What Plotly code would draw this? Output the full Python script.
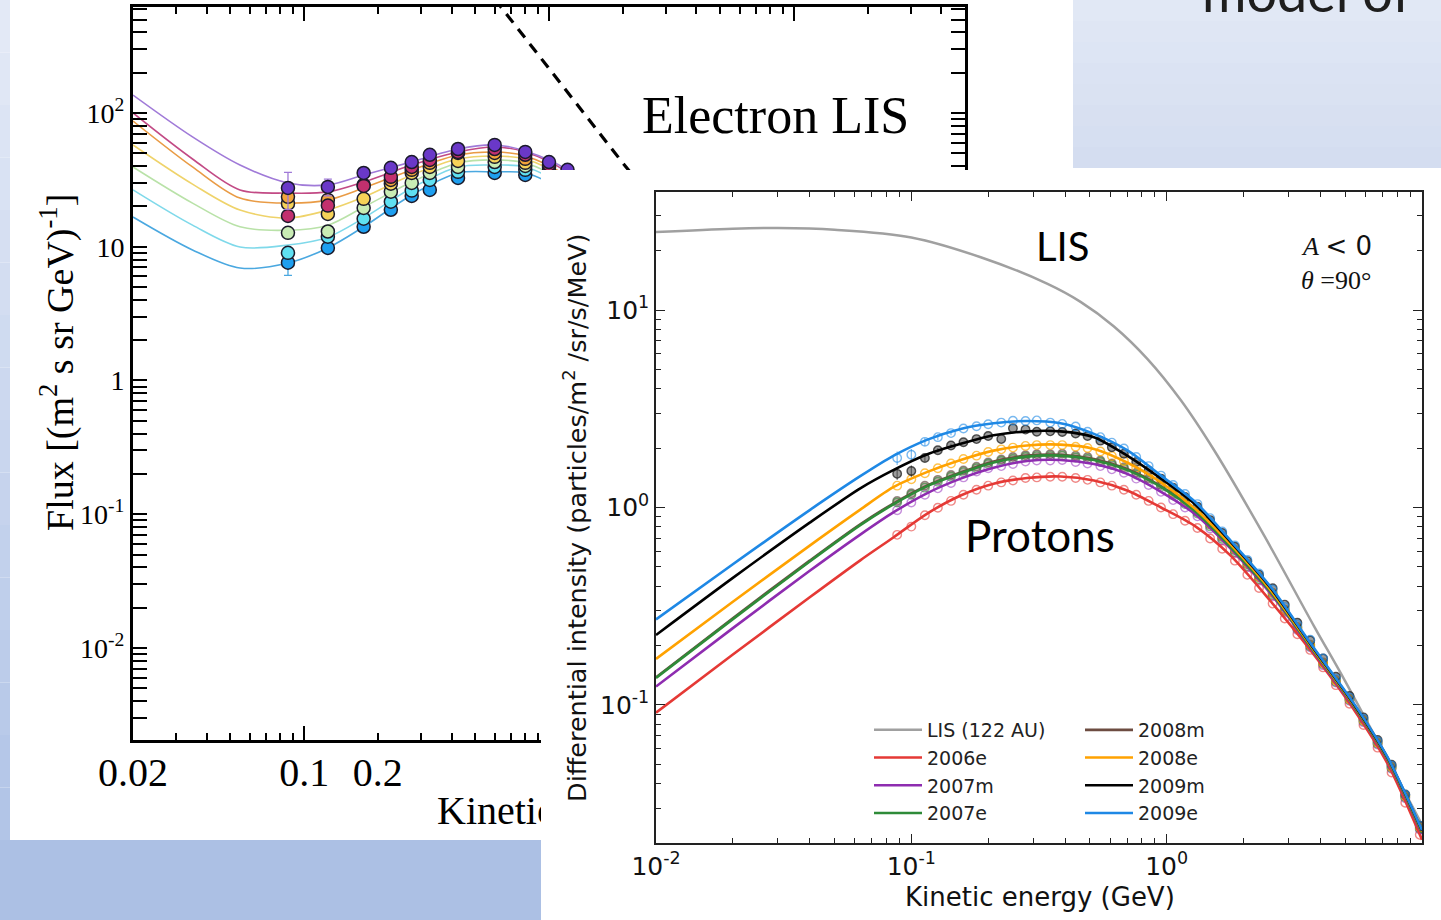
import math
import plotly.graph_objects as go

W, H = 1441, 920


def fx(px):
    return px / W


def fy(py):
    return 1 - py / H


# ---------------- Electron chart (left, partly hidden) ----------------
el_line_E = [0.02, 0.035, 0.0547, 0.0859, 0.125, 0.175, 0.275, 0.425, 0.6, 0.8, 1.19, 3.0, 10.0, 50.0]
el_purple = [136, 66.2, 40.8, 30.0, 29.0, 34.4, 43.1, 53.8, 57.7, 52.0, 37.5, 8.0, 0.9, 0.02]
el_magenta = [100, 45.3, 26.6, 25.2, 25.7, 30.5, 40.8, 51.1, 55.7, 51.1, 36.0, 7.8, 0.88, 0.02]
el_orange = [87.1, 39.5, 23.1, 21.2, 22.4, 27.5, 37.5, 48.5, 51.1, 47.7, 33.5, 7.4, 0.85, 0.02]
el_yellow = [57.7, 29.4, 18.8, 16.4, 18.8, 23.5, 34.4, 45.3, 47.7, 45.3, 31.5, 7.1, 0.82, 0.02]
el_green = [39.5, 21.2, 14.1, 13.3, 14.5, 19.8, 30.5, 42.3, 44.6, 42.3, 29.5, 6.8, 0.8, 0.02]
el_cyan = [26.6, 14.5, 9.96, 10.3, 11.8, 16.4, 27.5, 39.5, 40.8, 39.5, 27.5, 6.5, 0.77, 0.02]
el_blue = [16.7, 9.47, 6.93, 7.56, 9.8, 14.1, 24.4, 35.6, 36.2, 35.6, 25.0, 6.1, 0.74, 0.02]

el_pts_E = [0.0859, 0.125, 0.175, 0.226, 0.275, 0.326, 0.425, 0.6, 0.8, 1.0, 1.19]
el_purple_pts = [27.5, 28.0, 35.6, 38.9, 43.0, 48.7, 53.8, 57.7, 51.2, 43.0, 37.6]
el_magenta_pts = [17.0, 20.3, 28.5, 33.3, 39.5, 44.6, 51.2, 53.8, 48.7, 41.0, 35.0]
el_orange_pts = [23.6, 22.4, 29.0, 31.6, 37.6, 42.4, 50.3, 50.3, 45.4, 39.5, 33.0]
el_yellow_pts = [21.0, 17.6, 22.8, 29.6, 35.6, 39.5, 43.8, 47.0, 42.4, 37.0, 31.0]
el_green_pts = [12.7, 13.0, 19.5, 25.8, 30.0, 35.6, 39.5, 43.0, 40.2, 35.0, 29.0]
el_cyan_pts = [9.0, 11.9, 16.2, 21.7, 26.3, 31.6, 36.3, 39.5, 37.6, 33.0, 27.0]
el_blue_pts = [7.6, 9.8, 14.1, 18.9, 24.0, 26.6, 32.7, 35.6, 34.4, 30.0, 25.0]
el_purple_err = [8.5, 4.0, 2.0, 1.5, 0, 0, 0, 0, 0, 0, 0]
el_blue_err = [1.5, 0.8, 0.5, 0, 0, 0, 0, 0, 0, 0, 0]

el_lis_E = [0.6, 0.69, 1.0, 2.0, 5.0, 20.0, 50.0]
el_lis = [712, 512, 215, 42.4, 5.5, 0.2, 0.025]

el_x_labels_vals = [0.02, 0.1, 0.2]
el_x_labels_text = ["0.02", "0.1", "0.2"]
el_y_tickvals = [0.01, 0.1, 1, 10, 100]
el_y_ticktext = ["10<sup>-2</sup>", "10<sup>-1</sup>", "1", "10", "10<sup>2</sup>"]

# ---------------- Proton chart (right, in front) ----------------
p_lis_E = [0.01, 0.02, 0.03, 0.05, 0.1, 0.187, 0.34, 0.46, 0.62, 0.84, 1.135, 1.53, 2.41, 3.78, 5.0, 10.0]
p_lis = [24.8, 25.8, 26.0, 25.5, 23.3, 18.5, 13.6, 11.0, 8.28, 5.66, 3.5, 1.96, 0.72, 0.25, 0.132, 0.0248]

p_line_E = [0.01, 0.02, 0.04, 0.0631, 0.0853, 0.115, 0.156, 0.21, 0.284, 0.384,
            0.519, 0.70, 0.95, 1.3, 1.78, 2.56, 3.67, 5.43, 7.33, 10.0]
p_2006e = [0.0914, 0.180, 0.351, 0.540, 0.707, 0.929, 1.15, 1.32, 1.41, 1.435,
           1.37, 1.22, 1.00, 0.80, 0.57, 0.334, 0.188, 0.094, 0.0504, 0.0208]
p_2007m = [0.124, 0.245, 0.478, 0.729, 0.947, 1.18, 1.40, 1.59, 1.72, 1.74,
           1.66, 1.48, 1.20, 0.92, 0.62, 0.365, 0.194, 0.097, 0.0525, 0.0222]
p_2007e = [0.137, 0.272, 0.533, 0.814, 1.04, 1.28, 1.49, 1.69, 1.81, 1.83,
           1.74, 1.55, 1.27, 0.95, 0.63, 0.372, 0.196, 0.098, 0.053, 0.0225]
p_2008m = [0.138, 0.275, 0.538, 0.822, 1.05, 1.29, 1.505, 1.71, 1.83, 1.85,
           1.76, 1.565, 1.28, 0.96, 0.636, 0.376, 0.198, 0.099, 0.0535, 0.0227]
p_2008e = [0.171, 0.333, 0.641, 0.975, 1.27, 1.51, 1.74, 1.94, 2.06, 2.08,
           1.98, 1.69, 1.34, 0.98, 0.65, 0.38, 0.199, 0.099, 0.0535, 0.0228]
p_2009m = [0.226, 0.44, 0.838, 1.25, 1.55, 1.855, 2.10, 2.32, 2.43, 2.43,
           2.27, 1.83, 1.40, 1.03, 0.67, 0.39, 0.202, 0.100, 0.054, 0.023]
p_2009e = [0.271, 0.516, 0.97, 1.44, 1.83, 2.20, 2.50, 2.67, 2.74, 2.67,
           2.36, 1.95, 1.45, 1.06, 0.68, 0.395, 0.204, 0.101, 0.0544, 0.0232]

p_pts_E = [0.088, 0.1, 0.113, 0.127, 0.143, 0.16, 0.18, 0.2, 0.225, 0.25, 0.28, 0.31, 0.35, 0.39,
           0.44, 0.49, 0.55, 0.61, 0.68, 0.76, 0.85, 0.95, 1.06, 1.18, 1.32, 1.48, 1.65, 1.85,
           2.07, 2.3, 2.6, 2.9, 3.25, 3.65, 4.1, 4.6, 5.2, 5.9, 6.7, 7.6, 8.6, 9.8]
p_2006e_pts = [0.727, 0.80, 0.914, 0.996, 1.08, 1.16, 1.23, 1.29, 1.34, 1.37, 1.41, 1.42, 1.43, 1.43,
               1.41, 1.38, 1.34, 1.29, 1.23, 1.16, 1.08, 1.00, 0.925, 0.857, 0.787, 0.696, 0.618, 0.538,
               0.456, 0.391, 0.326, 0.274, 0.228, 0.190, 0.155, 0.126, 0.1015, 0.0791, 0.0608, 0.0455, 0.032, 0.022]
p_2007m_pts = [0.969, 1.06, 1.16, 1.25, 1.33, 1.42, 1.52, 1.58, 1.62, 1.66, 1.71, 1.73, 1.73, 1.74,
               1.70, 1.67, 1.62, 1.56, 1.50, 1.40, 1.30, 1.20, 1.09, 1.00, 0.902, 0.782, 0.682, 0.586,
               0.498, 0.426, 0.355, 0.293, 0.240, 0.196, 0.159, 0.130, 0.105, 0.0818, 0.0631, 0.0475, 0.0337, 0.0234]
p_2007e_pts = [1.06, 1.16, 1.26, 1.35, 1.43, 1.51, 1.58, 1.66, 1.72, 1.76, 1.80, 1.82, 1.82, 1.83,
               1.79, 1.76, 1.70, 1.64, 1.57, 1.47, 1.37, 1.27, 1.15, 1.04, 0.931, 0.802, 0.695, 0.596,
               0.506, 0.434, 0.362, 0.298, 0.243, 0.198, 0.161, 0.131, 0.106, 0.0827, 0.0637, 0.048, 0.0341, 0.0237]
p_2008m_pts = [1.08, 1.18, 1.29, 1.38, 1.46, 1.54, 1.61, 1.69, 1.75, 1.80, 1.84, 1.86, 1.86, 1.87,
               1.83, 1.80, 1.73, 1.67, 1.60, 1.50, 1.40, 1.30, 1.17, 1.06, 0.95, 0.818, 0.709, 0.608,
               0.516, 0.443, 0.369, 0.304, 0.248, 0.202, 0.164, 0.134, 0.108, 0.0844, 0.065, 0.049, 0.0348, 0.0242]
p_2008e_pts = [1.29, 1.39, 1.49, 1.58, 1.67, 1.76, 1.83, 1.91, 1.97, 2.01, 2.05, 2.07, 2.07, 2.07,
               2.03, 2.00, 1.92, 1.82, 1.72, 1.59, 1.46, 1.34, 1.20, 1.08, 0.961, 0.827, 0.717, 0.614,
               0.520, 0.445, 0.370, 0.304, 0.247, 0.201, 0.163, 0.133, 0.107, 0.0835, 0.0644, 0.0485, 0.0345, 0.0240]
p_2009m_pts = [1.48, 1.53, 1.78, 1.95, 2.06, 2.14, 2.22, 2.30, 2.22, 2.52, 2.48, 2.42, 2.43, 2.41,
               2.37, 2.30, 2.18, 2.02, 1.87, 1.70, 1.54, 1.40, 1.26, 1.13, 1.01, 0.863, 0.743, 0.633,
               0.535, 0.457, 0.39, 0.322, 0.261, 0.212, 0.172, 0.139, 0.111, 0.0865, 0.0665, 0.0498, 0.0352, 0.0245]
p_2009e_pts = [1.78, 1.85, 2.15, 2.27, 2.38, 2.51, 2.58, 2.64, 2.69, 2.75, 2.74, 2.76, 2.69, 2.65,
               2.57, 2.42, 2.27, 2.13, 1.99, 1.80, 1.62, 1.45, 1.30, 1.17, 1.04, 0.883, 0.756, 0.642,
               0.543, 0.463, 0.384, 0.314, 0.255, 0.214, 0.172, 0.136, 0.109, 0.0851, 0.0655, 0.0493, 0.0351, 0.0245]
p_2009e_err = [0.14, 0.13, 0.10, 0.08, 0.06] + [0] * 37
p_2009m_err = [0.10, 0.10, 0.07, 0.05, 0.04] + [0] * 37

p_x_tickvals = [0.01, 0.1, 1, 10]
p_x_ticktext = ["10<sup>-2</sup>", "10<sup>-1</sup>", "10<sup>0</sup>", "10<sup>1</sup>"]
p_y_tickvals = [0.1, 1, 10]
p_y_ticktext = ["10<sup>-1</sup>", "10<sup>0</sup>", "10<sup>1</sup>"]


def minor_vals(decades, upto=None):
    out = []
    for d in decades:
        for m in range(2, 10):
            v = d * m
            if upto is None or v <= upto:
                out.append(v)
    return out


fig = go.Figure()

# ---- left chart: model lines ----
el_series = [
    (el_blue, el_blue_pts, "#4aa8e0", "#1e9ff0"),
    (el_cyan, el_cyan_pts, "#7fd9ea", "#5fe0f2"),
    (el_green, el_green_pts, "#b9e2a8", "#c9ecb4"),
    (el_yellow, el_yellow_pts, "#efd36a", "#f6d258"),
    (el_orange, el_orange_pts, "#e99b45", "#f2a43a"),
    (el_magenta, el_magenta_pts, "#c24a85", "#c2306e"),
    (el_purple, el_purple_pts, "#a07ad8", "#6a38c8"),
]
for vals, pts, lc, mc in el_series:
    fig.add_trace(go.Scatter(x=el_line_E, y=vals, mode="lines", xaxis="x", yaxis="y",
                             line=dict(color=lc, width=1.6, shape="spline", smoothing=0.9),
                             showlegend=False, hoverinfo="skip"))
fig.add_trace(go.Scatter(x=el_lis_E, y=el_lis, mode="lines", xaxis="x", yaxis="y",
                         line=dict(color="black", width=3.2, dash="11px,8px"),
                         showlegend=False, hoverinfo="skip"))
for vals, pts, lc, mc in el_series:
    err = None
    if pts is el_purple_pts:
        err = dict(type="data", array=el_purple_err, color="#a07ad8", thickness=1.3, width=4)
    if pts is el_blue_pts:
        err = dict(type="data", array=el_blue_err, color="#4aa8e0", thickness=1.3, width=4)
    fig.add_trace(go.Scatter(x=el_pts_E, y=pts, mode="markers", xaxis="x", yaxis="y",
                             marker=dict(size=13, color=mc, line=dict(color="#1a1a2a", width=1.5)),
                             error_y=err, showlegend=False, hoverinfo="skip"))
# overlay axis carrying the bottom tick labels of the left chart
fig.add_trace(go.Scatter(x=[], y=[], xaxis="x5", yaxis="y", showlegend=False, hoverinfo="skip"))

# ---- white panel of the proton figure (covers the electron chart) ----
fig.add_trace(go.Scatter(x=[], y=[], xaxis="x2", yaxis="y2", showlegend=False, hoverinfo="skip"))

# ---- right chart ----
fig.add_trace(go.Scatter(x=p_lis_E, y=p_lis, mode="lines", name="LIS (122 AU)", xaxis="x3", yaxis="y3",
                         line=dict(color="#a0a0a0", width=2.5, shape="spline", smoothing=1.0),
                         legend="legend", hoverinfo="skip"))

p_series = [
    ("2006e", p_2006e, p_2006e_pts, "#e53935", "rgba(0,0,0,0)", "rgba(229,57,53,0.6)", "legend", None),
    ("2007m", p_2007m, p_2007m_pts, "#8e2cb0", "rgba(0,0,0,0)", "rgba(150,50,190,0.55)", "legend", None),
    ("2008m", p_2008m, p_2008m_pts, "#6d4c41", "rgba(109,76,65,0.45)", "rgba(80,60,50,0.55)", "legend2", None),
    ("2007e", p_2007e, p_2007e_pts, "#2e8b38", "rgba(0,0,0,0)", "rgba(46,139,56,0.6)", "legend", None),
    ("2008e", p_2008e, p_2008e_pts, "#ffa200", "rgba(0,0,0,0)", "rgba(255,170,0,0.7)", "legend2", None),
    ("2009m", p_2009m, p_2009m_pts, "#000000", "rgba(90,90,90,0.6)", "rgba(30,30,30,0.75)", "legend2", p_2009m_err),
    ("2009e", p_2009e, p_2009e_pts, "#1e88e5", "rgba(0,0,0,0)", "rgba(30,136,229,0.6)", "legend2", p_2009e_err),
]
for name, line_vals, pts, col, fill, edge, lg, err in p_series:
    fig.add_trace(go.Scatter(x=p_pts_E, y=pts, mode="markers", xaxis="x3", yaxis="y3",
                             marker=dict(size=8.5, color=fill, line=dict(color=edge, width=1.4)),
                             error_y=(dict(type="data", array=err, color=edge, thickness=1.2, width=0)
                                      if err is not None else None),
                             showlegend=False, hoverinfo="skip"))
for name, line_vals, pts, col, fill, edge, lg, err in p_series:
    fig.add_trace(go.Scatter(x=p_line_E, y=line_vals, mode="lines", name=name, xaxis="x3", yaxis="y3",
                             line=dict(color=col, width=2.6, shape="spline", smoothing=0.8),
                             legend=lg, hoverinfo="skip"))

# ---- clipped x-axis title of the electron chart ----
fig.add_trace(go.Scatter(x=[437], y=[0.5], mode="text", text=["Kinetic energy (GeV)"],
                         textposition="middle right", xaxis="x4", yaxis="y4", cliponaxis=True,
                         textfont=dict(family="Liberation Serif", size=40, color="black"),
                         showlegend=False, hoverinfo="skip"))

# ---------------- background bands (slide) ----------------
shapes = []


def mix(c1, c2, t):
    return "rgb(%d,%d,%d)" % tuple(round(a + (b - a) * t) for a, b in zip(c1, c2))


n = 16
for i in range(n):
    t = i / (n - 1)
    shapes.append(dict(type="rect", xref="paper", yref="paper", layer="below", line=dict(width=0),
                       x0=0, x1=fx(10), y0=fy(840 * (i + 1) / n), y1=fy(840 * i / n),
                       fillcolor=mix((227, 233, 246), (178, 197, 231), t)))
shapes.append(dict(type="rect", xref="paper", yref="paper", layer="below", line=dict(width=0),
                   x0=0, x1=fx(541), y0=0, y1=fy(840), fillcolor="rgb(172,192,228)"))
m = 8
for i in range(m):
    t = i / (m - 1)
    shapes.append(dict(type="rect", xref="paper", yref="paper", layer="below", line=dict(width=0),
                       x0=fx(1073), x1=1, y0=fy(168 * (i + 1) / m), y1=fy(168 * i / m),
                       fillcolor=mix((225, 232, 245), (212, 221, 240), t)))

el_axis_common = dict(showline=True, linecolor="black", linewidth=3, mirror="allticks",
                      ticks="inside", ticklen=14, tickwidth=2, tickcolor="black",
                      showgrid=False, zeroline=False, automargin=False)
p_axis_common = dict(showline=True, linecolor="#222", linewidth=1.5, mirror="allticks",
                     ticks="inside", ticklen=9, tickwidth=1.3, tickcolor="#222",
                     showgrid=False, zeroline=False, automargin=False,
                     tickfont=dict(family="DejaVu Sans", size=25, color="#111"))


def ann(text, x, y, family, size, color="black", angle=0, xanchor="center", yanchor="middle"):
    return dict(text=text, x=fx(x), y=fy(y), xref="paper", yref="paper", showarrow=False,
                xanchor=xanchor, yanchor=yanchor, textangle=angle,
                font=dict(family=family, size=size, color=color))


fig.update_layout(
    template="none",
    width=W, height=H, autosize=False,
    margin=dict(l=0, r=0, t=0, b=0, pad=0, autoexpand=False),
    paper_bgcolor="white", plot_bgcolor="white",
    shapes=shapes,
    xaxis=dict(domain=[fx(133), fx(965)], type="log", range=[math.log10(0.02), math.log10(50)],
               anchor="y", tickvals=[0.1, 1, 10], showticklabels=False,
               minor=dict(ticks="inside", ticklen=7, tickwidth=2, tickcolor="black", showgrid=False,
                          tickvals=minor_vals([0.01], None)[1:] + minor_vals([0.1, 1]) + [20, 30, 40]),
               **el_axis_common),
    xaxis5=dict(overlaying="x", anchor="y", side="bottom", type="log",
                range=[math.log10(0.02), math.log10(50)], automargin=False,
                tickvals=el_x_labels_vals, ticktext=el_x_labels_text, ticks="", showline=False,
                showgrid=False, zeroline=False, ticklabelstandoff=5,
                tickfont=dict(family="Liberation Serif", size=40, color="black")),
    yaxis=dict(domain=[fy(740), fy(7)], type="log", range=[-2.688, 2.7925], anchor="x",
               tickvals=el_y_tickvals, ticktext=el_y_ticktext,
               tickfont=dict(family="Liberation Serif", size=28, color="black"),
               minor=dict(ticks="inside", ticklen=7, tickwidth=2, tickcolor="black", showgrid=False,
                          tickvals=minor_vals([0.001, 0.01, 0.1, 1, 10]) + minor_vals([100], 600)),
               **el_axis_common),
    xaxis2=dict(domain=[fx(541), 1], range=[0, 1], anchor="y2", visible=False, automargin=False),
    yaxis2=dict(domain=[0, fy(170)], range=[0, 1], anchor="x2", visible=False, automargin=False),
    xaxis3=dict(domain=[fx(656), fx(1422)], type="log", range=[-2, 1], anchor="y3",
                tickvals=p_x_tickvals, ticktext=p_x_ticktext,
                minor=dict(ticks="inside", ticklen=5, tickwidth=1.2, tickcolor="#222", showgrid=False,
                           tickvals=minor_vals([0.01, 0.1, 1])),
                **p_axis_common),
    yaxis3=dict(domain=[fy(843), fy(192)], type="log", range=[math.log10(0.02), 1.5975], anchor="x3",
                tickvals=p_y_tickvals, ticktext=p_y_ticktext,
                minor=dict(ticks="inside", ticklen=5, tickwidth=1.2, tickcolor="#222", showgrid=False,
                           tickvals=minor_vals([0.01, 0.1, 1]) + [20, 30]),
                **p_axis_common),
    xaxis4=dict(domain=[fx(10), fx(541)], range=[10, 541], anchor="y4", visible=False, automargin=False),
    yaxis4=dict(domain=[fy(840), fy(788)], range=[0, 1], anchor="x4", visible=False, automargin=False),
    legend=dict(x=fx(869), y=fy(711), xanchor="left", yanchor="top", bgcolor="rgba(0,0,0,0)",
                borderwidth=0, font=dict(family="DejaVu Sans", size=19, color="#222"),
                tracegroupgap=0, itemwidth=48),
    legend2=dict(x=fx(1080), y=fy(711), xanchor="left", yanchor="top", bgcolor="rgba(0,0,0,0)",
                 borderwidth=0, font=dict(family="DejaVu Sans", size=19, color="#222"),
                 tracegroupgap=0, itemwidth=48),
    annotations=[
        ann("Electron LIS", 776, 115, "Liberation Serif", 52),
        ann("Flux [(m<sup>2</sup> s sr GeV)<sup>-1</sup>]", 57, 363, "Liberation Serif", 38, angle=-90),
        ann("Differential intensity (particles/m<sup>2</sup> /sr/s/MeV)", 575, 518, "DejaVu Sans", 25.5,
            color="#111", angle=-90),
        ann("Kinetic energy (GeV)", 1040, 897, "DejaVu Sans", 26, color="#111"),
        ann("LIS", 1062, 246, "Lato", 40),
        ann("Protons", 1040, 535, "Lato", 44),
        ann('<i>A</i> <span style="font-family:DejaVu Sans">&lt; 0</span>', 1336, 246,
            "Liberation Serif", 26, color="#111"),
        ann("<i>θ</i> =90°", 1336, 281, "Liberation Serif", 26, color="#111"),
        ann("model of", 1200, 26, "Lato", 54, color="#1e1e1e", xanchor="left", yanchor="bottom"),
    ],
)

fig.write_html("out.html")
